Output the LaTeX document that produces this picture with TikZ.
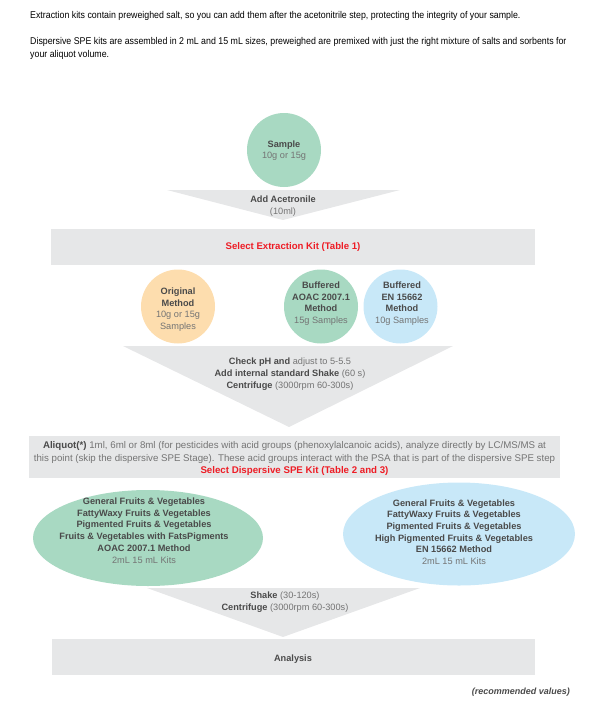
\documentclass[tikz,border=0pt]{standalone}
\usepackage{fontspec}
\setmainfont{Liberation Sans}
\newfontfamily\narrowfont{Liberation Sans}[FakeStretch=0.9]
\usetikzlibrary{shapes.geometric}
\definecolor{bargray}{HTML}{E6E7E8}
\definecolor{mint}{HTML}{A8D9C2}
\definecolor{peach}{HTML}{FDDDAE}
\definecolor{sky}{HTML}{C8E8F8}
\definecolor{txtdark}{HTML}{4A4A4A}
\definecolor{txtgray}{HTML}{747474}
\definecolor{redtxt}{HTML}{EE1C25}
\newcommand{\rg}[1]{{\mdseries\color{txtgray}#1}}
\begin{document}
\begin{tikzpicture}[x=1pt,y=-1pt,
  bar/.style={fill=bargray, draw=none, inner sep=0},
  blob/.style={circle, minimum size=74pt, inner sep=0, draw=none},
  oval/.style={ellipse, inner sep=0, draw=none},
  lbl/.style={font=\bfseries\fontsize{9.2}{11.7}\selectfont, text=txtdark, align=center, inner sep=0},
  head/.style={anchor=west, inner sep=0, font=\narrowfont\fontsize{9.8}{10}\selectfont, text=black},
  redlbl/.style={font=\bfseries\fontsize{9.6}{10}\selectfont, text=redtxt, inner sep=0}]
\useasboundingbox (0,0) rectangle (597,705);

% header
\node[head] (h1) at (30,16) {Extraction kits contain preweighed salt, so you can add them after the acetonitrile step, protecting the integrity of your sample.};
\node[head] (h2) at (30,42) {Dispersive SPE kits are assembled in 2 mL and 15 mL sizes, preweighed are premixed with just the right mixture of salts and sorbents for};
\node[head] (h3) at (30,55) {your aliquot volume.};

% sample
\node[blob, fill=mint] (sample) at (284,150) {};
\node[lbl] (sampletxt) at (284,150.5) {Sample\\\rg{10g or 15g}};

% triangle 1
\coordinate (t1l) at (167,190);
\coordinate (t1r) at (400,190);
\coordinate (t1a) at (283,220);
\fill[bargray] (t1l) -- (t1r) -- (t1a) -- cycle;
\node[lbl] (t1txt) at (283,206) {Add Acetronile\\\rg{(10ml)}};

% bar 1
\node[bar, minimum width=484pt, minimum height=36pt] (bar1) at (293,247) {};
\node[redlbl] (bar1txt) at (bar1.center) {Select Extraction Kit (Table 1)};

% triangle 2 (behind circles)
\coordinate (t2l) at (123,346);
\coordinate (t2r) at (453,346);
\coordinate (t2a) at (289,427);
\fill[bargray] (t2l) -- (t2r) -- (t2a) -- cycle;

% method circles
\node[blob, fill=peach] (orig) at (178,306.5) {};
\node[lbl] (origtxt) at (178,309.5) {Original\\Method\\\rg{10g or 15g}\\\rg{Samples}};
\node[blob, fill=mint] (aoac) at (321,306.5) {};
\node[lbl] (aoactxt) at (321,303.5) {Buffered\\AOAC 2007.1\\Method\\\rg{15g Samples}};
\node[blob, fill=sky] (en) at (400.5,306.5) {};
\node[lbl] (entxt) at (402,303.5) {Buffered\\EN 15662\\Method\\\rg{10g Samples}};

\node[lbl] (t2txt) at (290,374) {Check pH and \rg{adjust to 5-5.5}\\Add internal standard Shake \rg{(60 s)}\\Centrifuge \rg{(3000rpm 60-300s)}};

% bar 2
\node[bar, minimum width=531pt, minimum height=42pt] (bar2) at (294.5,457) {};
\node[lbl, font=\fontsize{9.7}{12.5}\selectfont] (bar2txt) at (294.5,458.5)
  {\textbf{Aliquot(*)} \rg{1ml, 6ml or 8ml (for pesticides with acid groups (phenoxylalcanoic acids), analyze directly by LC/MS/MS at}\\
   \rg{this point (skip the dispersive SPE Stage). These acid groups interact with the PSA that is part of the dispersive SPE step}\\
   {\bfseries\color{redtxt}Select Dispersive SPE Kit (Table 2 and 3)}};

% triangle 3 (behind ellipses)
\coordinate (t3l) at (147,588);
\coordinate (t3r) at (420,588);
\coordinate (t3a) at (283,637);
\fill[bargray] (t3l) -- (t3r) -- (t3a) -- cycle;

% ellipses
\node[oval, fill=mint, minimum width=230pt, minimum height=96pt] (ellL) at (148,538) {};
\node[lbl] (ellLtxt) at (144,530.5) {General Fruits \& Vegetables\\FattyWaxy Fruits \& Vegetables\\Pigmented Fruits \& Vegetables\\Fruits \& Vegetables with FatsPigments\\AOAC 2007.1 Method\\\rg{2mL 15 mL Kits}};
\node[oval, fill=sky, minimum width=232pt, minimum height=103pt] (ellR) at (459,534) {};
\node[lbl] (ellRtxt) at (454,532) {General Fruits \& Vegetables\\FattyWaxy Fruits \& Vegetables\\Pigmented Fruits \& Vegetables\\High Pigmented Fruits \& Vegetables\\EN 15662 Method\\\rg{2mL 15 mL Kits}};

\node[lbl] (t3txt) at (285,602) {Shake \rg{(30-120s)}\\Centrifuge \rg{(3000rpm 60-300s)}};

% bar 3
\node[bar, minimum width=483pt, minimum height=36pt] (bar3) at (293.5,657) {};
\node[lbl] (bar3txt) at (293,659) {Analysis};

\node[lbl, anchor=east, font=\bfseries\itshape\fontsize{9}{10}\selectfont] (rec) at (570,692) {(recommended values)};
\end{tikzpicture}
\end{document}
